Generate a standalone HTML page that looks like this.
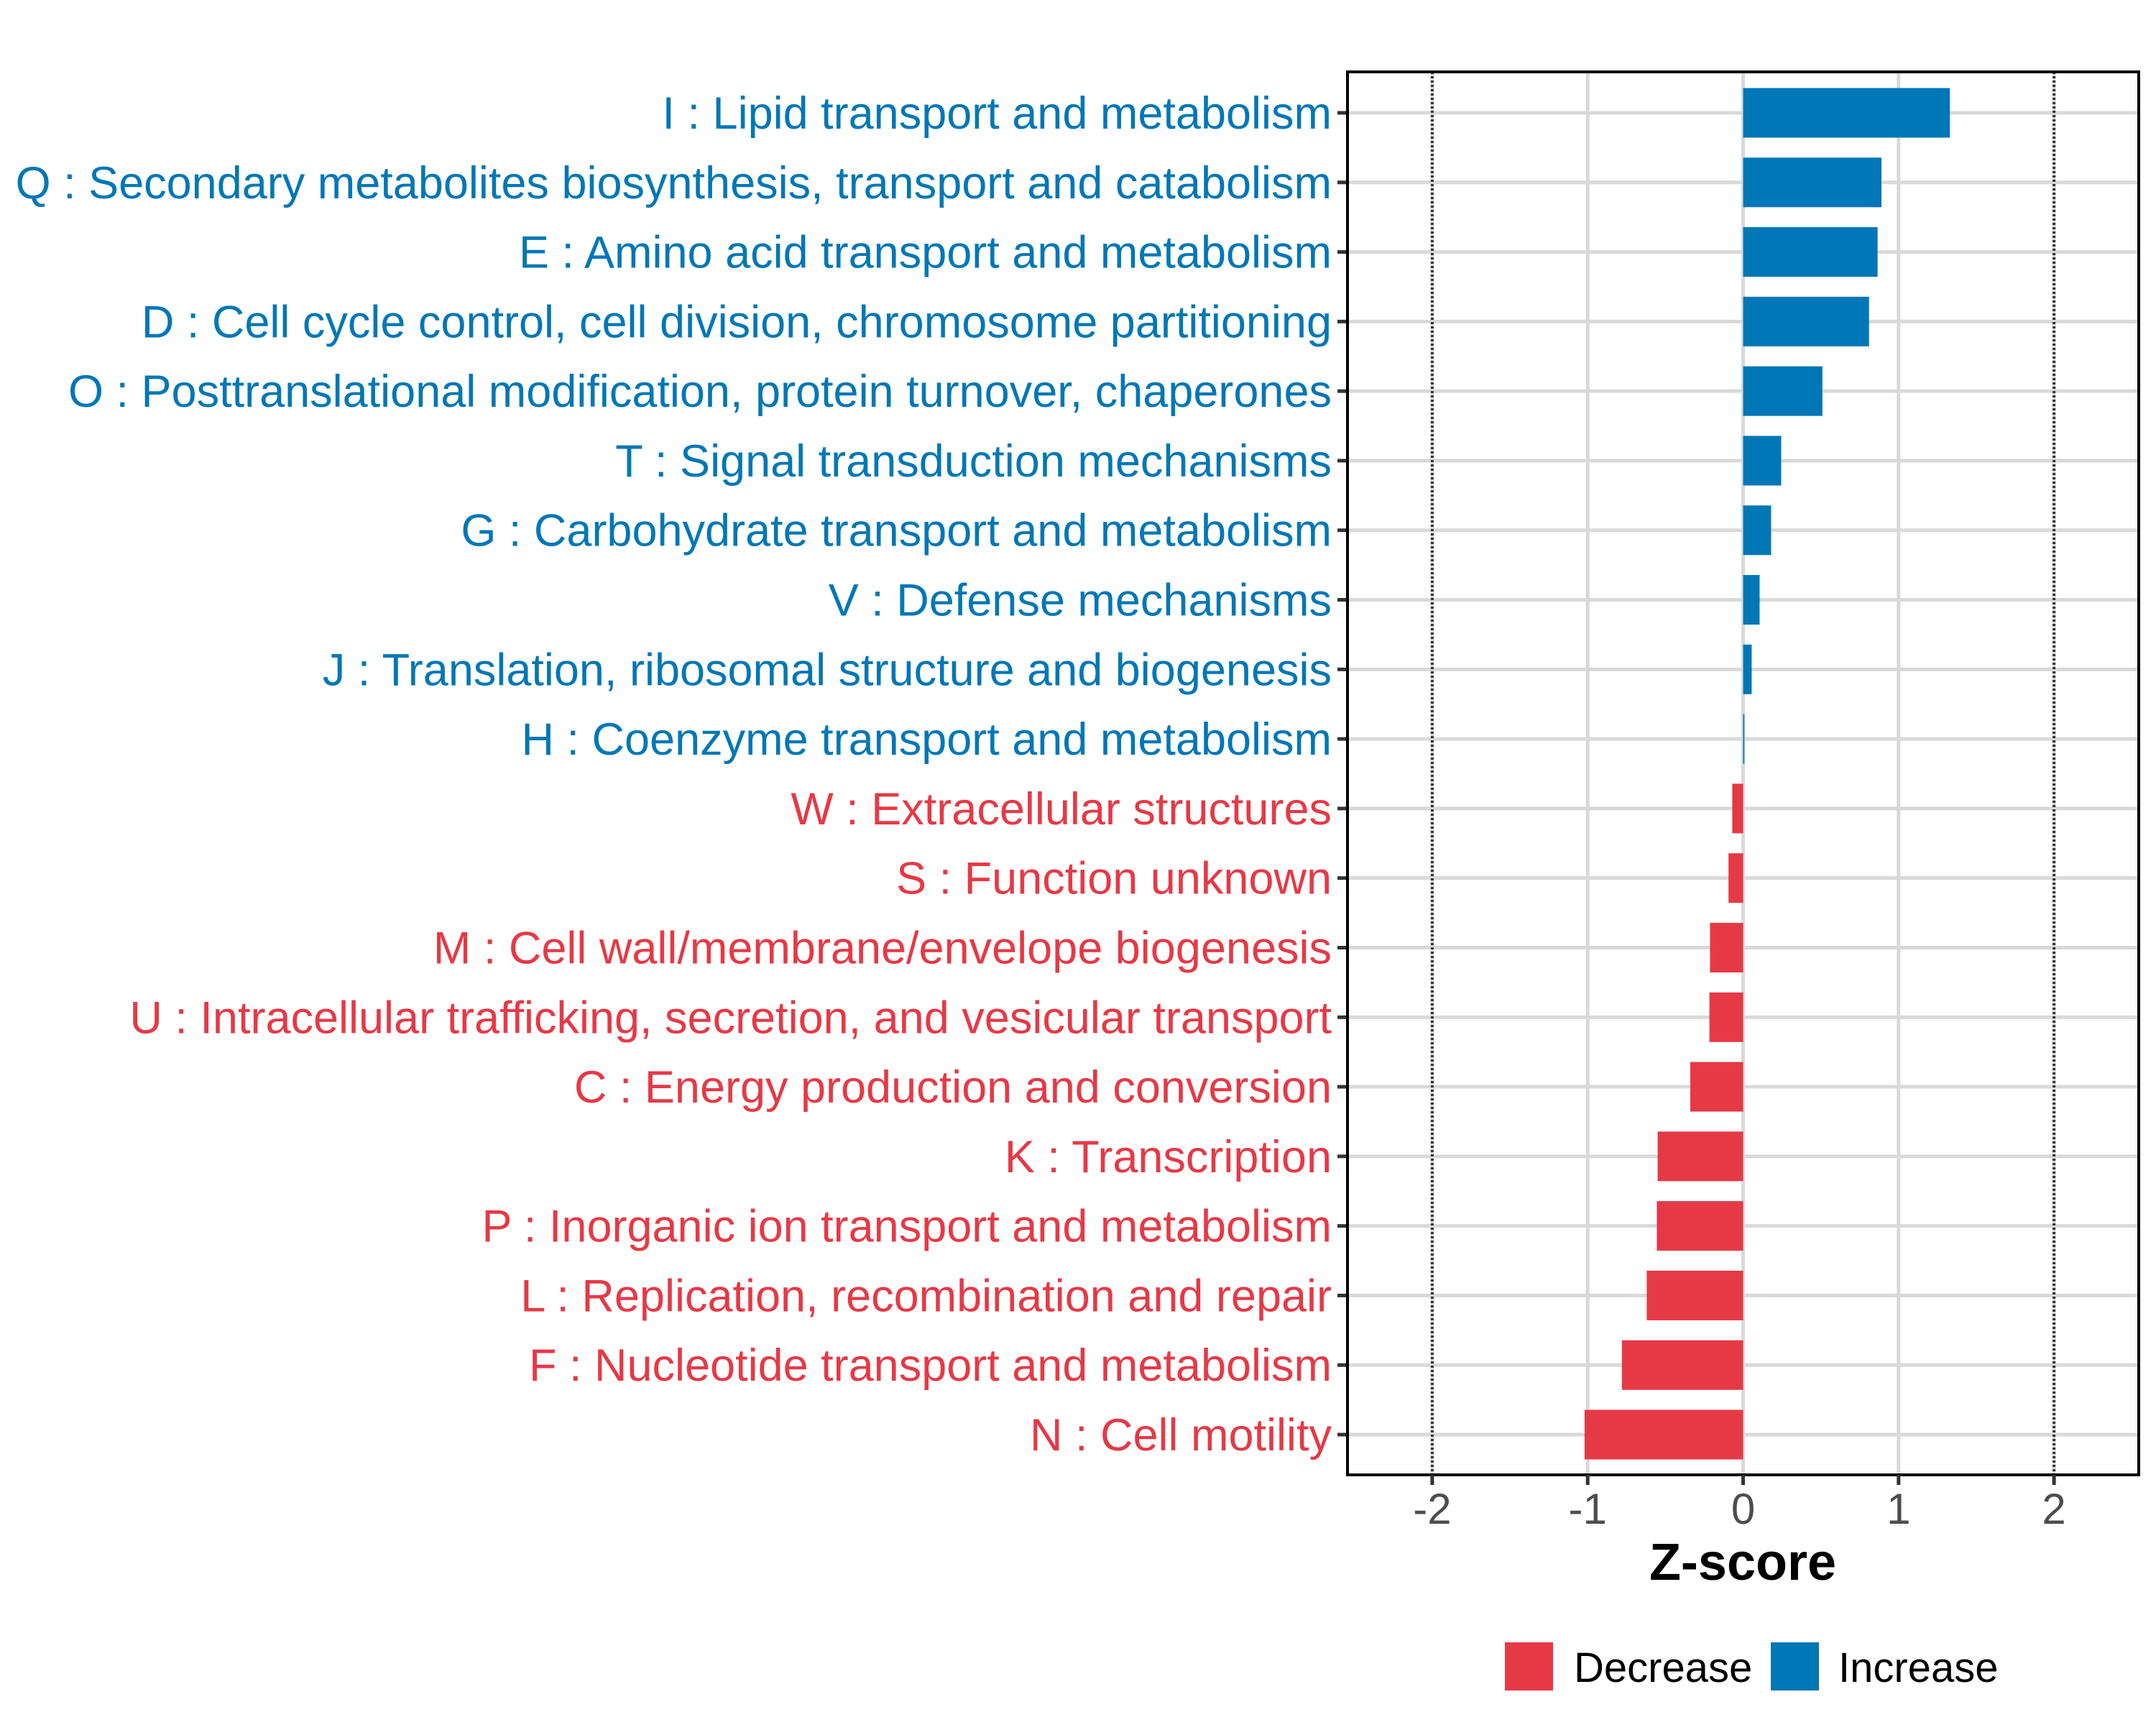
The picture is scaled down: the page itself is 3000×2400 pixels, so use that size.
<!DOCTYPE html>
<html><head><meta charset="utf-8"><style>
html,body{margin:0;padding:0;background:#fff;}
svg{display:block;font-family:"Liberation Sans",Arial,sans-serif;}
</style></head><body>
<svg id="chart" width="3000" height="2400" viewBox="0 0 3000 2400" xmlns="http://www.w3.org/2000/svg">
<rect width="3000" height="2400" fill="#fff"/>
<g id="grid"></g>
<g id="bars"></g>
<g id="axes"></g>
<text x="2425" y="2198" font-size="72" font-weight="bold" text-anchor="middle" fill="#000">Z-score</text>
<g>
  <rect x="2094" y="2285" width="67" height="67" fill="#E63946"/>
  <text x="2190" y="2340" font-size="58" fill="#000">Decrease</text>
  <rect x="2464" y="2285" width="67" height="67" fill="#0077B6"/>
  <text x="2558" y="2340" font-size="58" fill="#000">Increase</text>
</g>
</svg>
<script>
const categories = [
"I : Lipid transport and metabolism",
"Q : Secondary metabolites biosynthesis, transport and catabolism",
"E : Amino acid transport and metabolism",
"D : Cell cycle control, cell division, chromosome partitioning",
"O : Posttranslational modification, protein turnover, chaperones",
"T : Signal transduction mechanisms",
"G : Carbohydrate transport and metabolism",
"V : Defense mechanisms",
"J : Translation, ribosomal structure and biogenesis",
"H : Coenzyme transport and metabolism",
"W : Extracellular structures",
"S : Function unknown",
"M : Cell wall/membrane/envelope biogenesis",
"U : Intracellular trafficking, secretion, and vesicular transport",
"C : Energy production and conversion",
"K : Transcription",
"P : Inorganic ion transport and metabolism",
"L : Replication, recombination and repair",
"F : Nucleotide transport and metabolism",
"N : Cell motility"];
const zscores = [1.33,0.89,0.865,0.81,0.51,0.245,0.18,0.106,0.055,0.008,-0.07,-0.094,-0.213,-0.217,-0.34,-0.55,-0.555,-0.62,-0.78,-1.02];
const xTicks = [-2,-1,0,1,2];
const xTickLabels = ["-2","-1","0","1","2"];
const refLines = [-2,2];

const NS="http://www.w3.org/2000/svg";
const P={l:1875,r:2976,t:100,b:2052};
const X0=2425.5, UNIT=216.3;
function xs(v){return X0+v*UNIT;}
const ROW0=157, STEP=(1996-157)/19;
function ys(i){return ROW0+i*STEP;}
const BAR_H=69;
const BLUE="#0077B6", RED="#E63946";
function mk(tag,attrs,parent){const e=document.createElementNS(NS,tag);for(const k in attrs)e.setAttribute(k,attrs[k]);parent.appendChild(e);return e;}
const grid=document.getElementById('grid'), bars=document.getElementById('bars'), axes=document.getElementById('axes');

xTicks.forEach((t,i)=>{
  const l=mk('line',{x1:xs(t),x2:xs(t),y1:P.t,y2:P.b,stroke:'#d9d9d9','stroke-width':5},grid);
  
  
});
categories.forEach((c,i)=>{
  const l=mk('line',{x1:P.l,x2:P.r,y1:ys(i),y2:ys(i),stroke:'#d9d9d9','stroke-width':5},grid);
  
  
});
refLines.forEach(v=>{
  const l=mk('line',{x1:xs(v),x2:xs(v),y1:P.t,y2:P.b,stroke:'#333','stroke-width':4,'stroke-dasharray':'3 3'},grid);
  
  
});
zscores.forEach((v,i)=>{
  const x=Math.min(xs(0),xs(v)), w=Math.abs(xs(v)-xs(0));
  const r=mk('rect',{x:x,y:ys(i)-BAR_H/2,width:Math.max(w,1.5),height:BAR_H,fill:v>=0?BLUE:RED},bars);
  
  
  const t=mk('text',{x:1853,y:ys(i)+22,'font-size':63,'text-anchor':'end',fill:v>=0?BLUE:RED},axes);
  t.textContent=categories[i];
  
  
  const tk=mk('line',{x1:P.l-14,x2:P.l,y1:ys(i),y2:ys(i),stroke:'#333','stroke-width':5},axes);
  
  
});
const frame=mk('rect',{x:P.l,y:P.t,width:P.r-P.l,height:P.b-P.t,fill:'none',stroke:'#000','stroke-width':4},axes);


xTicks.forEach((t,i)=>{
  const tk=mk('line',{x1:xs(t),x2:xs(t),y1:P.b,y2:P.b+14,stroke:'#333','stroke-width':5},axes);
  
  
  const lb=mk('text',{x:xs(t),y:2120,'font-size':60,'text-anchor':'middle',fill:'#4d4d4d'},axes);
  lb.textContent=xTickLabels[i];
  
  
});
</script>
</body></html>
